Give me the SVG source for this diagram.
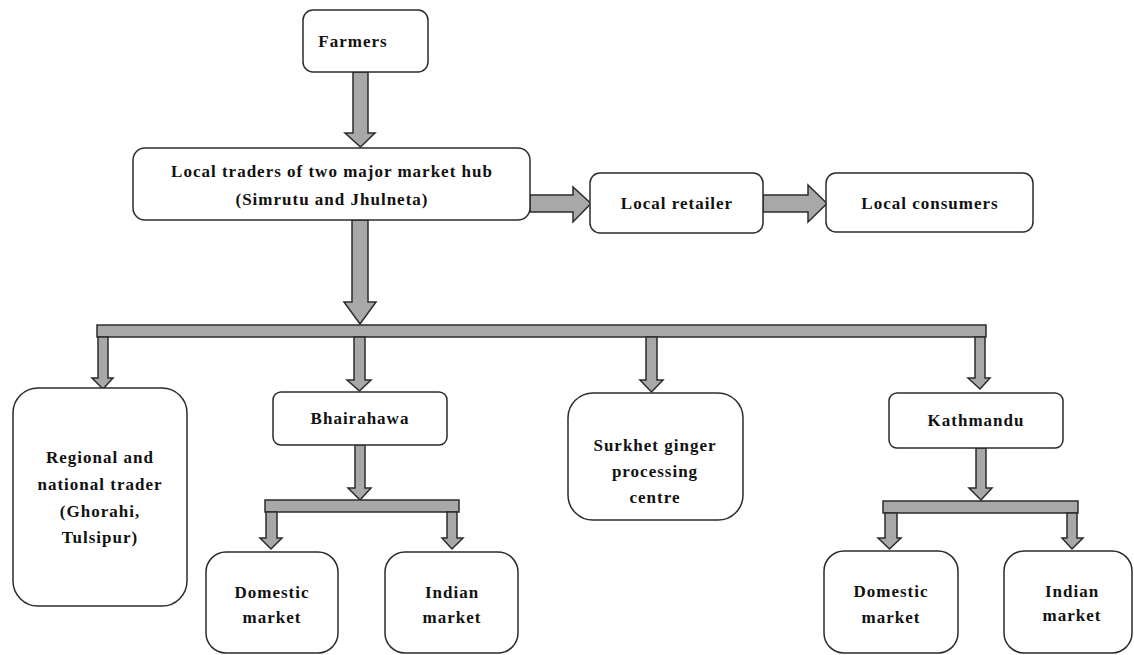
<svg xmlns="http://www.w3.org/2000/svg" width="1134" height="655" viewBox="0 0 1134 655">
<style>
.box{fill:#fff;stroke:#2b2b2b;stroke-width:1.5}
.arr{fill:#a8a8a8;stroke:#2b2b2b;stroke-width:1.5;stroke-linejoin:miter}
.t{font-family:'Liberation Serif','Times New Roman','DejaVu Serif',serif;font-weight:bold;font-size:17px;letter-spacing:1px;fill:#111;text-anchor:middle}
</style>
<rect width="1134" height="655" fill="#fff"/>
<g id="connectors">
<polygon class="arr" points="353,72 368,72 368,133 375,133 360.5,147 345,133 353,133"/>
<polygon class="arr" points="352,220 368,220 368,302 376,302 360,324 344,302 352,302"/>
<polygon class="arr" points="530,195 573,195 573,187 591,203.5 573,222 573,212 530,212"/>
<polygon class="arr" points="763,195 808,195 808,185 827,203.5 808,222 808,212 763,212"/>
<rect class="arr" x="97" y="325" width="889" height="12"/>
<polygon class="arr" points="98,337 108,337 108,378 113,378 103,389 92,378 98,378"/>
<polygon class="arr" points="354,337 365,337 365,380 371,380 359.5,391 347,380 354,380"/>
<polygon class="arr" points="646,337 657,337 657,380 663,380 651.5,392 640,380 646,380"/>
<polygon class="arr" points="975,337 985,337 985,378 990,378 980,389 968,378 975,378"/>
<polygon class="arr" points="355,445 365,445 365,488 371,488 360,500 348,488 355,488"/>
<rect class="arr" x="265" y="500" width="194" height="12"/>
<polygon class="arr" points="266,512 277,512 277,538 282,538 271,549 260,538 266,538"/>
<polygon class="arr" points="447,512 457,512 457,538 463,538 452,549 442,538 447,538"/>
<polygon class="arr" points="976,448 986,448 986,488 992,488 981,500 969,488 976,488"/>
<rect class="arr" x="883" y="501" width="195" height="12"/>
<polygon class="arr" points="885,513 897,513 897,538 901,538 889.5,549 878,538 885,538"/>
<polygon class="arr" points="1067,513 1077,513 1077,538 1083,538 1072,549 1062,538 1067,538"/>
</g>
<g id="farmers"><rect class="box" x="303" y="10" width="125" height="62" rx="10"/><text class="t" x="353" y="47">Farmers</text></g>
<g id="local-traders"><rect class="box" x="133" y="148" width="397" height="72" rx="12"/><text class="t" x="332" y="177">Local traders of two major market hub</text><text class="t" x="332" y="205">(Simrutu and Jhulneta)</text></g>
<g id="local-retailer"><rect class="box" x="590" y="173" width="173" height="60" rx="10"/><text class="t" x="677" y="209">Local retailer</text></g>
<g id="local-consumers"><rect class="box" x="826" y="173" width="207" height="59" rx="10"/><text class="t" x="930" y="209">Local consumers</text></g>
<g id="regional"><rect class="box" x="13" y="388" width="174" height="218" rx="25"/><text class="t" x="100" y="463">Regional and</text><text class="t" x="100" y="490">national trader</text><text class="t" x="100" y="517">(Ghorahi,</text><text class="t" x="100" y="543">Tulsipur)</text></g>
<g id="bhairahawa"><rect class="box" x="273" y="392" width="174" height="53" rx="8"/><text class="t" x="360" y="424">Bhairahawa</text></g>
<g id="surkhet"><rect class="box" x="568" y="393" width="175" height="127" rx="25"/><text class="t" x="655" y="451">Surkhet ginger</text><text class="t" x="655" y="477">processing</text><text class="t" x="655" y="503">centre</text></g>
<g id="kathmandu"><rect class="box" x="889" y="393" width="174" height="55" rx="8"/><text class="t" x="976" y="426">Kathmandu</text></g>
<g id="domestic-1"><rect class="box" x="206" y="552" width="132" height="101" rx="20"/><text class="t" x="272" y="598">Domestic</text><text class="t" x="272" y="623">market</text></g>
<g id="indian-1"><rect class="box" x="385" y="552" width="133" height="101" rx="20"/><text class="t" x="452" y="598">Indian</text><text class="t" x="452" y="623">market</text></g>
<g id="domestic-2"><rect class="box" x="824" y="551" width="134" height="102" rx="20"/><text class="t" x="891" y="597">Domestic</text><text class="t" x="891" y="623">market</text></g>
<g id="indian-2"><rect class="box" x="1004" y="551" width="128" height="102" rx="20"/><text class="t" x="1072" y="597">Indian</text><text class="t" x="1072" y="621">market</text></g>
</svg>
